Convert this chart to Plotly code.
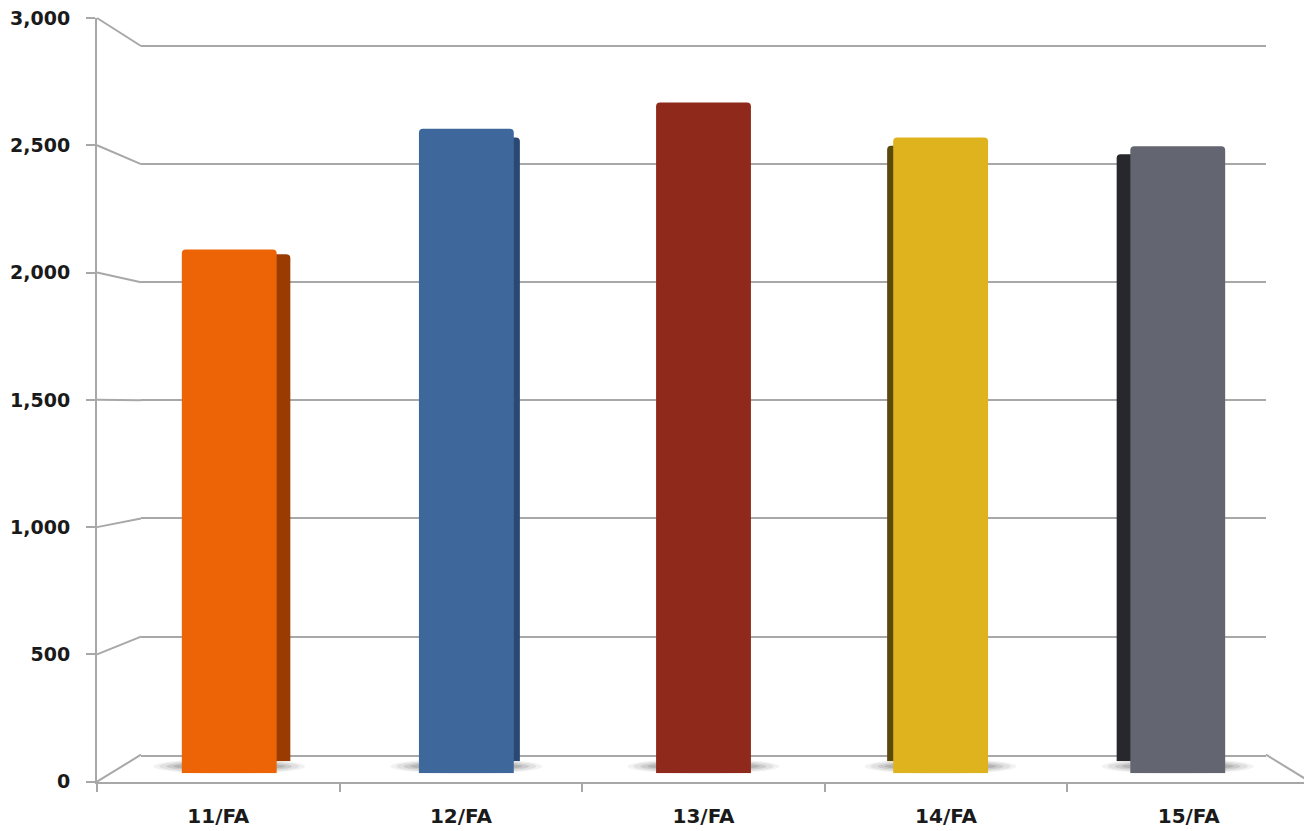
import plotly.graph_objects as go

# ---------------- data ----------------
categories = ["11/FA", "12/FA", "13/FA", "14/FA", "15/FA"]
values = [2105, 2590, 2695, 2555, 2520]
front_colors = ["#EC6405", "#3E689C", "#8E291C", "#DEB31D", "#636670"]
side_colors = ["#9A3B02", "#2A4872", "#5E1A10", "#5A490A", "#26282C"]
y_tickvals = [0, 500, 1000, 1500, 2000, 2500, 3000]
y_ticktext = ["0", "500", "1,000", "1,500", "2,000", "2,500", "3,000"]
y_max = 3000

# ---------------- geometry (pixels of the 1312x831 page) ----------------
PAGE_W, PAGE_H = 1312, 831
OFF = 8                      # body margin of the html page
W, H = PAGE_W - OFF, PAGE_H - OFF
def px(x): return (x - OFF) / W
def py(y): return 1 - (y - OFF) / H

FRONT_X = (97, 1310)
FRONT_Y = (781.7, 18)      # value 0 , value max
BACK_X = (141, 1266)
BACK_Y = (754.7, 46)
DEPTH = 0.311              # front faces of the columns
VP = (703.5, 400)          # vanishing centre
SHRINK = 0.968             # back faces of the columns
PAD = 1.002                # keeps the top gridline inside the back-wall range

def lerp(a, b, t): return a + (b - a) * t

bar_x = (lerp(FRONT_X[0], BACK_X[0], DEPTH), lerp(FRONT_X[1], BACK_X[1], DEPTH))
bar_y = (lerp(FRONT_Y[0], BACK_Y[0], DEPTH), lerp(FRONT_Y[1], BACK_Y[1], DEPTH))
bk_x = tuple(VP[0] + (v - VP[0]) * SHRINK for v in bar_x)
bk_y = tuple(VP[1] + (v - VP[1]) * SHRINK for v in bar_y)
back_top = BACK_Y[0] + (BACK_Y[1] - BACK_Y[0]) * PAD

GRID = "#A8A8A8"
TXT = "#1A1A1A"
YFONT = dict(family="DejaVu Sans", size=19, color=TXT, weight="bold")
XFONT = dict(family="DejaVu Sans", size=20, color=TXT, weight="bold")

fig = go.Figure()

# invisible anchors so the axis subplots are rendered
fig.add_trace(go.Scatter(x=[categories[0]], y=[0], mode="markers", marker=dict(opacity=0),
                         xaxis="x", yaxis="y", hoverinfo="skip", showlegend=False))
fig.add_trace(go.Scatter(x=[0], y=[0], mode="markers", marker=dict(opacity=0),
                         xaxis="x2", yaxis="y2", hoverinfo="skip", showlegend=False))
# back faces (visible as side faces)
fig.add_trace(go.Bar(x=categories, y=values, marker=dict(color=side_colors, line_width=0),
                     width=0.4, xaxis="x3", yaxis="y3", hoverinfo="skip", showlegend=False))
# front faces
fig.add_trace(go.Bar(x=categories, y=values, marker=dict(color=front_colors, line_width=0),
                     width=0.4, xaxis="x4", yaxis="y4", showlegend=False))

shapes = []
# connectors between front axis and back wall
for v in y_tickvals:
    yf = lerp(FRONT_Y[0], FRONT_Y[1], v / y_max)
    yb = lerp(BACK_Y[0], BACK_Y[1], v / y_max)
    shapes.append(dict(type="line", xref="paper", yref="paper",
                       x0=px(FRONT_X[0]), y0=py(yf), x1=px(BACK_X[0]), y1=py(yb),
                       line=dict(color=GRID, width=2), layer="below"))
# right floor edge
shapes.append(dict(type="line", xref="paper", yref="paper",
                   x0=px(BACK_X[1]), y0=py(BACK_Y[0]), x1=px(FRONT_X[1]), y1=py(FRONT_Y[0]),
                   line=dict(color=GRID, width=2), layer="below"))
# soft shadows under columns
n = len(categories)
cw = (bar_x[1] - bar_x[0]) / n
for i in range(n):
    cx = bar_x[0] + cw * (i + 0.5)
    for hw, hh, op in [(76, 7.5, 0.06), (70, 6.5, 0.08), (63, 5, 0.11), (56, 3.5, 0.13)]:
        shapes.append(dict(type="circle", xref="paper", yref="paper",
                           x0=px(cx - hw), x1=px(cx + hw),
                           y0=py(bar_y[0] - 7 + hh), y1=py(bar_y[0] - 7 - hh),
                           fillcolor=f"rgba(30,30,30,{op})", line_width=0, layer="below"))

fig.update_layout(
    width=W, height=H,
    margin=dict(l=0, r=0, t=0, b=0, autoexpand=False),
    paper_bgcolor="white", plot_bgcolor="rgba(0,0,0,0)",
    barcornerradius=4,
    shapes=shapes,
    showlegend=False,
    # front axes (labels)
    xaxis=dict(domain=[px(FRONT_X[0]), px(FRONT_X[1])], type="category",
               categoryorder="array", categoryarray=categories, automargin=False,
               range=[-0.5, n - 0.5], showgrid=False, zeroline=False,
               showline=True, linecolor=GRID, linewidth=2,
               ticks="outside", tickson="boundaries", ticklen=8, tickwidth=2, tickcolor=GRID,
               tickfont=XFONT, ticklabelstandoff=15, ticklabeloverflow="allow", anchor="y"),
    yaxis=dict(domain=[py(FRONT_Y[0]), py(FRONT_Y[1])], range=[0, y_max], automargin=False,
               tickvals=y_tickvals, ticktext=y_ticktext, showgrid=False, zeroline=False,
               showline=True, linecolor=GRID, linewidth=2,
               ticks="outside", ticklen=9, tickwidth=2, tickcolor=GRID,
               tickfont=YFONT, ticklabelstandoff=12, ticklabeloverflow="allow", anchor="x"),
    # back wall gridlines
    xaxis2=dict(domain=[px(BACK_X[0]), px(BACK_X[1])], range=[0, 1], showgrid=False,
                zeroline=False, showticklabels=False, ticks="", showline=True, automargin=False,
                linecolor=GRID, linewidth=2, anchor="y2"),
    yaxis2=dict(domain=[py(BACK_Y[0]), py(back_top)], range=[0, y_max * PAD], automargin=False,
                tickvals=y_tickvals, showgrid=True, gridcolor=GRID, gridwidth=2,
                zeroline=False, showticklabels=False, ticks="", showline=False, anchor="x2"),
    # column back faces
    xaxis3=dict(domain=[px(bk_x[0]), px(bk_x[1])], type="category", range=[-0.5, n - 0.5],
                visible=False, anchor="y3", automargin=False),
    yaxis3=dict(domain=[py(bk_y[0]), py(bk_y[1])], range=[0, y_max], visible=False,
                anchor="x3", automargin=False),
    # column front faces
    xaxis4=dict(domain=[px(bar_x[0]), px(bar_x[1])], type="category", range=[-0.5, n - 0.5],
                visible=False, anchor="y4", automargin=False),
    yaxis4=dict(domain=[py(bar_y[0]), py(bar_y[1])], range=[0, y_max], visible=False,
                anchor="x4", automargin=False),
)

fig.write_html("out.html")
